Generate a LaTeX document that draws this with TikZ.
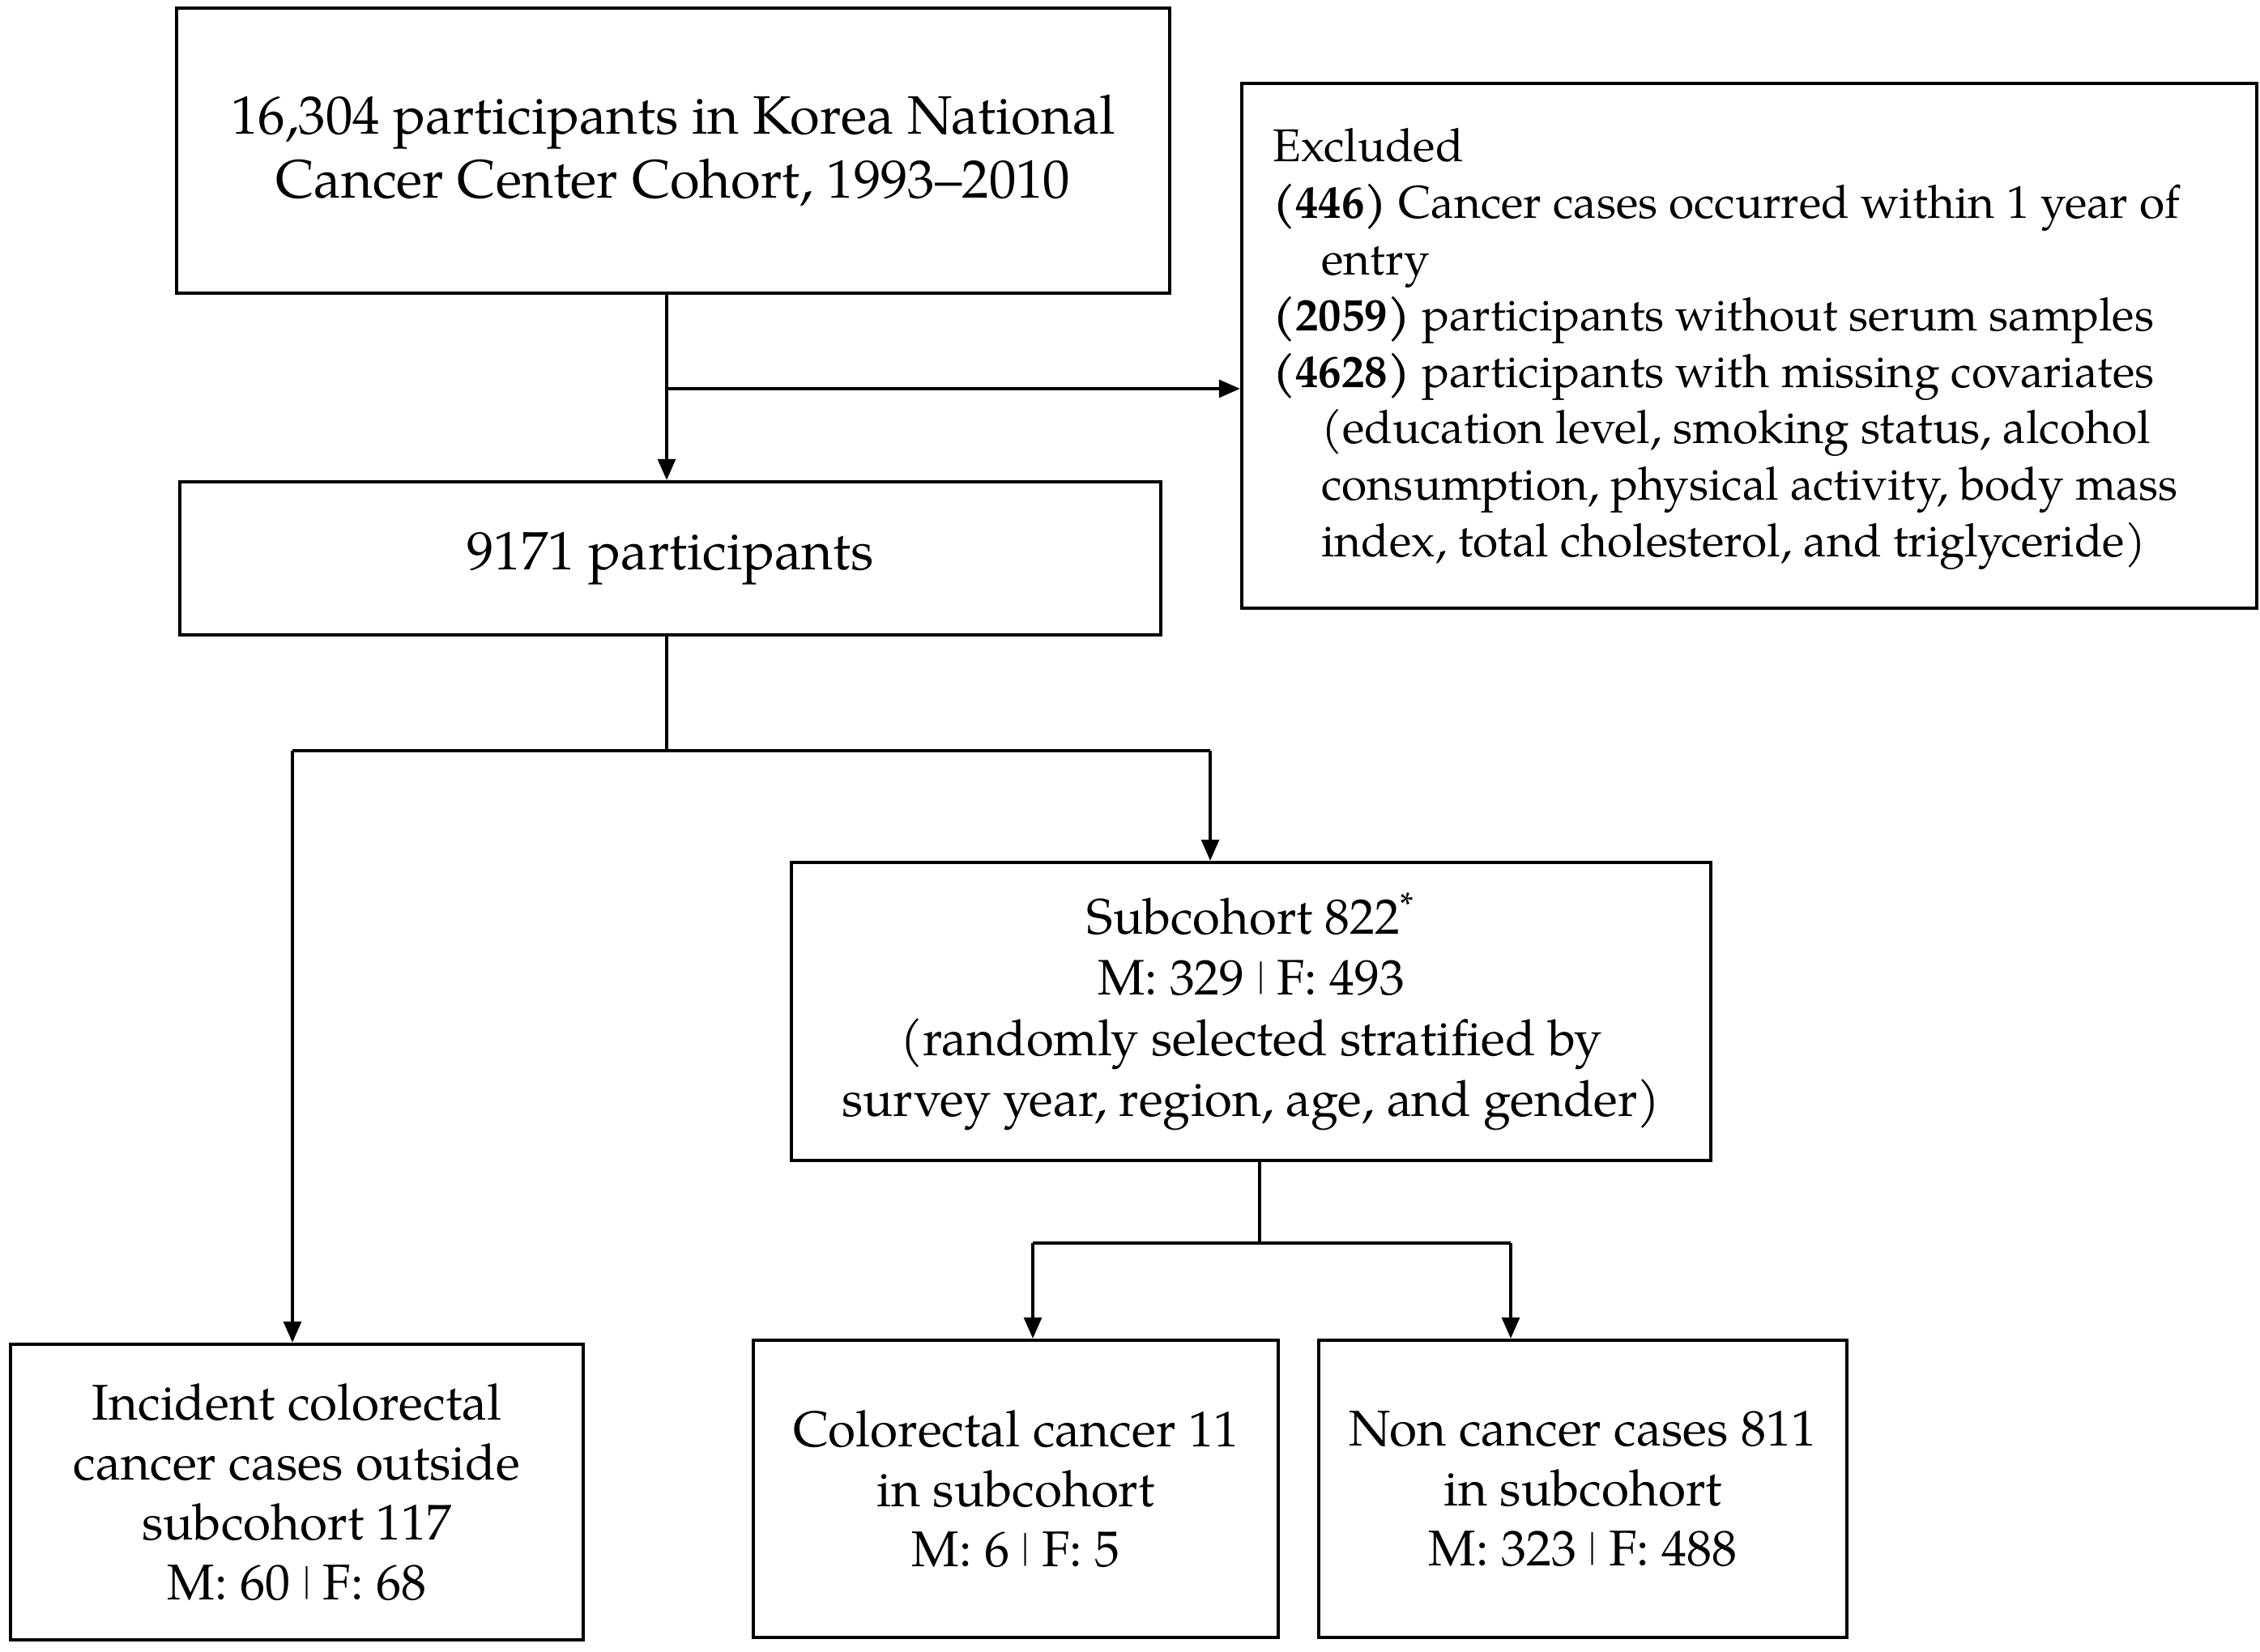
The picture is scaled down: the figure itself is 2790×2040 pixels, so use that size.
\documentclass[tikz,border=0pt]{standalone}
\usepackage{fontspec}
\setmainfont{TeX Gyre Pagella}
\usetikzlibrary{arrows.meta}
\def\pxu{0.25pt}
\newcommand{\mfsep}{\raisebox{0.12em}{\scalebox{0.7}[0.82]{|}}}
\begin{document}
\begin{tikzpicture}[x=0.25pt,y=-0.25pt,
  box/.style={draw, line width=1.1pt, inner sep=0pt, align=center},
  conn/.style={line width=0.8pt},
  arr/.style={conn, -{Triangle[length=6.5pt,width=5.5pt]}},
  bigf/.style={font=\fontsize{16.7}{19.75}\selectfont},
  exf/.style={font=\fontsize{14.2}{17.4}\selectfont},
  subf/.style={font=\fontsize{15.4}{18.75}\selectfont},
  botf/.style={font=\fontsize{15.5}{18.5}\selectfont}
]
\useasboundingbox (0,0) rectangle (2790,2040);
\fill[white] (0,0) rectangle (2790,2040);

\node[box, bigf, minimum width=1226*\pxu, minimum height=352*\pxu] (A) at (831,186)
  {16,304 participants in Korea National\\Cancer Center Cohort, 1993--2010};

\node[box, minimum width=1253*\pxu, minimum height=648*\pxu] (E) at (2159.5,427) {};
\node[exf, align=left, inner sep=0pt, anchor=west] (Etext) at ([xshift=40*\pxu, yshift=-1pt]E.west)
  {Excluded\\
   \textbf{(446)} Cancer cases occurred within 1 year of\\
   \hspace*{15pt}entry\\
   \textbf{(2059)} participants without serum samples\\
   \textbf{(4628)} participants with missing covariates\\
   \hspace*{15pt}(education level, smoking status, alcohol\\
   \hspace*{15pt}consumption, physical activity, body mass\\
   \hspace*{15pt}index, total cholesterol, and triglyceride)};

\node[box, bigf, minimum width=1211*\pxu, minimum height=189*\pxu] (B) at (827.5,689.5)
  {9171 participants};

\node[box, subf, minimum width=1135*\pxu, minimum height=368*\pxu] (S) at (1544.5,1249)
  {Subcohort 822\textsuperscript{*}\\M: 329 \mfsep{} F: 493\\(randomly selected stratified by\\survey year, region, age, and gender)};

\node[box, botf, minimum width=707*\pxu, minimum height=365*\pxu] (L) at (366.5,1842.5)
  {Incident colorectal\\cancer cases outside\\subcohort 117\\M: 60 \mfsep{} F: 68};

\node[box, botf, minimum width=648*\pxu, minimum height=367*\pxu] (M) at (1254,1838.5)
  {Colorectal cancer 11\\in subcohort\\M: 6 \mfsep{} F: 5};

\node[box, botf, minimum width=652*\pxu, minimum height=367*\pxu] (R) at (1954,1838.5)
  {Non cancer cases 811\\in subcohort\\M: 323 \mfsep{} F: 488};

% connectors
\coordinate (j1) at (823,480);
\draw[arr] (A.south -| j1) -- (B.north -| j1);
\draw[arr] (j1) -- (j1 -| E.west);

\coordinate (j2) at (823,927);
\coordinate (jl) at (361,927);
\coordinate (jr) at (1494,927);
\draw[conn] (B.south -| j2) -- (j2);
\draw[conn] (jl) -- (jr);
\draw[arr] (jl) -- (jl |- L.north);
\draw[arr] (jr) -- (jr |- S.north);

\coordinate (j3) at (1555,1535);
\coordinate (jm) at (1275,1535);
\coordinate (jn) at (1865,1535);
\draw[conn] (S.south -| j3) -- (j3);
\draw[conn] (jm) -- (jn);
\draw[arr] (jm) -- (jm |- M.north);
\draw[arr] (jn) -- (jn |- R.north);
\end{tikzpicture}
\end{document}
